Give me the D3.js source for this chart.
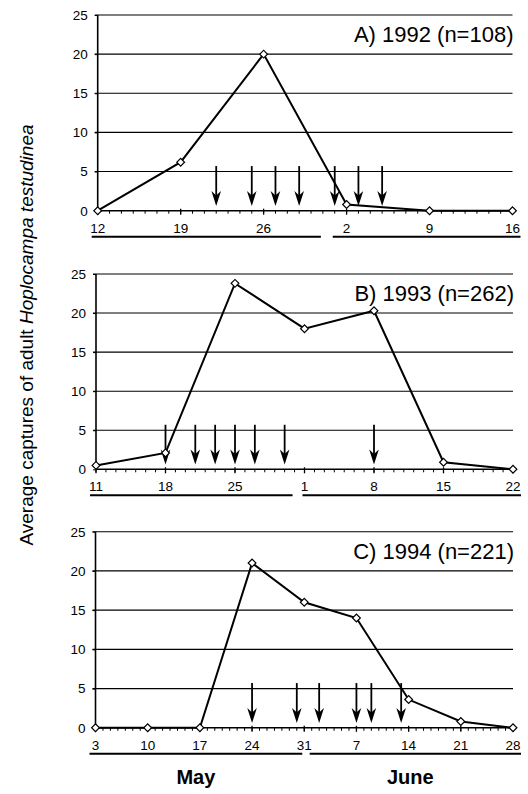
<!DOCTYPE html>
<html>
<head>
<meta charset="utf-8">
<script src="https://cdn.jsdelivr.net/npm/d3@7/dist/d3.min.js"></script>
<style>
  html, body { margin: 0; padding: 0; background: #fff; }
  svg { display: block; }
  text { font-family: "Liberation Sans", Arial, Helvetica, sans-serif; fill: #000; }
</style>
</head>
<body>
<svg id="chart" width="528" height="794"></svg>
<script>
// ---------------- DATA ----------------
const panelTitles = ["A) 1992 (n=108)", "B) 1993 (n=262)", "C) 1994 (n=221)"];
const startDates = ["1992-05-12", "1993-05-11", "1994-05-03"];
const endDates   = ["1992-06-16", "1993-06-22", "1994-06-28"];

const datesA  = ["1992-05-12", "1992-05-19", "1992-05-26", "1992-06-02", "1992-06-09", "1992-06-16"];
const valuesA = [0, 6.2, 20, 0.8, 0, 0];
const arrowsA = ["1992-05-22", "1992-05-25", "1992-05-27", "1992-05-29", "1992-06-01", "1992-06-03", "1992-06-05"];

const datesB  = ["1993-05-11", "1993-05-18", "1993-05-25", "1993-06-01", "1993-06-08", "1993-06-15", "1993-06-22"];
const valuesB = [0.5, 2.1, 23.8, 18, 20.3, 0.9, 0];
const arrowsB = ["1993-05-18", "1993-05-21", "1993-05-23", "1993-05-25", "1993-05-27", "1993-05-30", "1993-06-08"];

const datesC  = ["1994-05-03", "1994-05-10", "1994-05-17", "1994-05-24", "1994-05-31", "1994-06-07", "1994-06-14", "1994-06-21", "1994-06-28"];
const valuesC = [0, 0, 0, 21, 16, 14, 3.6, 0.8, 0];
const arrowsC = ["1994-05-24", "1994-05-30", "1994-06-02", "1994-06-07", "1994-06-09", "1994-06-13"];

const yTicks = [0, 5, 10, 15, 20, 25];
const yDomain = [0, 25];
const arrowRange = [5.7, 0.6];   // arrow spans from this value down to this value
const monthNames = ["May", "June"];
const yAxisTitle = ["Average captures of adult ", "Hoplocampa testudinea"];

// ---------------- LAYOUT ----------------
const boxes = [
  { left: 97.7, right: 512.5, top: 15,    bottom: 210.7 },
  { left: 96,   right: 513,   top: 274,   bottom: 469.3 },
  { left: 95.5, right: 513,   top: 531.7, bottom: 727.8 }
];
const seriesDates  = [datesA, datesB, datesC];
const seriesValues = [valuesA, valuesB, valuesC];
const seriesArrows = [arrowsA, arrowsB, arrowsC];

const parse = d3.timeParse("%Y-%m-%d");
const fmt = d3.timeFormat("%-d");
const svg = d3.select("#chart");

boxes.forEach((b, i) => {
  const g = svg.append("g");
  const start = parse(startDates[i]);
  const end = parse(endDates[i]);
  const x = d3.scaleTime().domain([start, end]).range([b.left, b.right]);
  const y = d3.scaleLinear().domain(yDomain).range([b.bottom, b.top]);

  // gridlines
  g.selectAll("line.grid").data(yTicks.filter(t => t > 0)).join("line")
    .attr("x1", b.left - 3).attr("x2", b.right)
    .attr("y1", d => y(d)).attr("y2", d => y(d))
    .attr("stroke", "#000").attr("stroke-width", 1.1);

  // y axis
  const yAxis = d3.axisLeft(y).tickValues(yTicks).tickSize(3).tickPadding(7);
  const ya = g.append("g").attr("transform", `translate(${b.left},0)`).call(yAxis);
  ya.select(".domain").attr("stroke-width", 1.6).attr("d", `M-0,${b.bottom}V${b.top}`);
  ya.selectAll("text").attr("font-size", 13.5).attr("font-family", "Liberation Sans, Arial, sans-serif");

  // x axis: daily minor ticks + weekly labels
  const days = d3.timeDay.range(start, d3.timeDay.offset(end, 1));
  g.append("line").attr("x1", b.left).attr("x2", b.right)
    .attr("y1", b.bottom).attr("y2", b.bottom)
    .attr("stroke", "#000").attr("stroke-width", 1.6);
  g.selectAll("line.minor").data(days).join("line")
    .attr("x1", d => x(d)).attr("x2", d => x(d))
    .attr("y1", b.bottom).attr("y2", b.bottom + 3)
    .attr("stroke", "#000").attr("stroke-width", 1);
  const majors = seriesDates[i].map(parse);
  g.selectAll("line.major").data(majors).join("line")
    .attr("x1", d => x(d)).attr("x2", d => x(d))
    .attr("y1", b.bottom - 2).attr("y2", b.bottom + 4)
    .attr("stroke", "#000").attr("stroke-width", 1.3);
  g.selectAll("text.xl").data(majors).join("text")
    .attr("x", d => x(d)).attr("y", b.bottom + 22)
    .attr("text-anchor", "middle").attr("font-size", 13.5)
    .text(d => fmt(d));

  // month underlines
  const yr = start.getFullYear();
  const may31 = new Date(yr, 4, 31), jun1 = new Date(yr, 5, 1);
  const lineY = b.bottom + 26;
  const mayLine = [b.left - 6, x(may31) - 2];
  const junLine = [x(jun1) - 2, b.right + 8];
  [mayLine, junLine].forEach(l => {
    g.append("line").attr("x1", l[0]).attr("x2", l[1])
      .attr("y1", lineY).attr("y2", lineY)
      .attr("stroke", "#000").attr("stroke-width", 2);
  });
  if (i === boxes.length - 1) {
    [mayLine, junLine].forEach((l, k) => {
      g.append("text").attr("x", (l[0] + l[1]) / 2 - (k === 1 ? 5 : 0)).attr("y", lineY + 30)
        .attr("text-anchor", "middle").attr("font-size", 20).attr("font-weight", "bold")
        .text(monthNames[k]);
    });
  }

  // title
  g.append("text").attr("x", b.right + 1).attr("y", b.top + 27)
    .attr("text-anchor", "end").attr("font-size", 22).text(panelTitles[i]);

  // arrows
  const tipY = y(arrowRange[1]);
  const arrowG = g.selectAll("g.arrow").data(seriesArrows[i].map(parse)).join("g")
    .attr("transform", d => `translate(${x(d)},0)`);
  arrowG.append("line").attr("x1", 0).attr("x2", 0)
    .attr("y1", y(arrowRange[0])).attr("y2", tipY - 8)
    .attr("stroke", "#000").attr("stroke-width", 1.8);
  arrowG.append("path")
    .attr("d", `M0,${tipY} L-4.8,${tipY - 15} L0,${tipY - 10.5} L4.8,${tipY - 15} Z`)
    .attr("fill", "#000");

  // series line
  const pts = seriesDates[i].map((d, k) => [parse(d), seriesValues[i][k]]);
  g.append("path").datum(pts)
    .attr("fill", "none").attr("stroke", "#000").attr("stroke-width", 2)
    .attr("d", d3.line().x(d => x(d[0])).y(d => y(d[1])));
  g.selectAll("path.mk").data(pts).join("path")
    .attr("d", d3.symbol(d3.symbolSquare, 30))
    .attr("transform", d => `translate(${x(d[0])},${y(d[1])}) rotate(45)`)
    .attr("fill", "#fff").attr("stroke", "#000").attr("stroke-width", 1.2);
});

// y axis title
const yt = svg.append("text")
  .attr("transform", "translate(33,335) rotate(-90)")
  .attr("text-anchor", "middle").attr("font-size", 19);
yt.append("tspan").text(yAxisTitle[0]);
yt.append("tspan").attr("font-style", "italic").text(yAxisTitle[1]);
</script>
</body>
</html>
